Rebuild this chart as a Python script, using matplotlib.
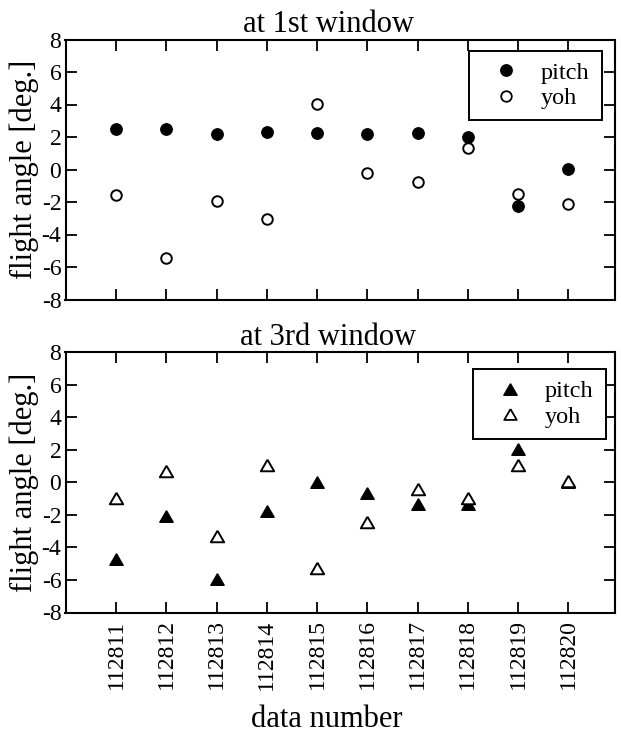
import matplotlib
matplotlib.use("Agg")
import matplotlib.pyplot as plt
from matplotlib.lines import Line2D

plt.rcParams['font.family'] = ['Liberation Serif', 'DejaVu Serif']
plt.rcParams['axes.unicode_minus'] = False

data_numbers = [112811, 112812, 112813, 112814, 112815, 112816, 112817, 112818, 112819, 112820]
w1_pitch = [2.52, 2.52, 2.21, 2.31, 2.25, 2.21, 2.27, 1.98, -2.27, 0.04]
w1_yoh = [-1.57, -5.44, -1.92, -3.05, 4.06, -0.21, -0.78, 1.34, -1.50, -2.14]
w3_pitch = [-4.72, -2.08, -5.96, -1.77, 0.04, -0.68, -1.34, -1.34, 2.04, 0.0]
w3_yoh = [-0.95, 0.72, -3.32, 1.07, -5.26, -2.47, -0.43, -0.95, 1.07, 0.08]
yticks = [-8, -6, -4, -2, 0, 2, 4, 6, 8]

W, H = 621, 736
fig = plt.figure(figsize=(W / 100, H / 100), dpi=100)

def pos(l, t, r, b):
    return [l / W, 1 - b / H, (r - l) / W, (b - t) / H]

ax1 = fig.add_axes(pos(65.5, 39.5, 615, 299.5))
ax2 = fig.add_axes(pos(65.5, 352, 615, 612.5))

# equilateral triangle centred on its bounding box
TRI = [(0, 0.866), (-1, -0.866), (1, -0.866), (0, 0.866)]

def style(ax, title, show_x):
    ax.set_xlim(112809.99, 112820.93)
    ax.set_ylim(-8, 8)
    ax.set_yticks(yticks)
    ax.set_yticklabels([str(v) for v in yticks], fontsize=17)
    ax.set_xticks(data_numbers)
    if show_x:
        ax.set_xticklabels([str(v) for v in data_numbers], rotation=90, fontsize=17)
        ax.tick_params(axis='x', pad=5)
    else:
        ax.set_xticklabels([])
    ax.tick_params(direction='in', length=8, width=1.3, top=True, right=True)
    ax.tick_params(axis='y', pad=3)
    for s in ax.spines.values():
        s.set_linewidth(1.5)
    ax.set_title(title, fontsize=22, pad=5, x=0.478)
    ax.set_ylabel('flight angle [deg.]', fontsize=22)
    ax.yaxis.set_label_coords(-0.048, 0.5)

ax1.plot(data_numbers, w1_yoh, linestyle='none', marker='o', markersize=7.6,
         markerfacecolor='white', markeredgecolor='black', markeredgewidth=1.4, label='yoh')
ax1.plot(data_numbers, w1_pitch, linestyle='none', marker='o', markersize=8.2,
         markerfacecolor='black', markeredgecolor='black', label='pitch')
style(ax1, 'at 1st window', False)

ax2.plot(data_numbers, w3_pitch, linestyle='none', marker=TRI, markersize=9.6,
         markerfacecolor='black', markeredgecolor='black', markeredgewidth=1.0, label='pitch')
ax2.plot(data_numbers, w3_yoh, linestyle='none', marker=TRI, markersize=9.6,
         markerfacecolor='white', markeredgecolor='black', markeredgewidth=1.4, label='yoh')
style(ax2, 'at 3rd window', True)
ax2.set_xlabel('data number', fontsize=22)
ax2.xaxis.set_label_coords(0.476, -0.355)

def legend(ax, marker, ms, left, top, right, bottom):
    handles = [
        Line2D([], [], linestyle='none', marker=marker, markersize=ms,
               markerfacecolor='black', markeredgecolor='black'),
        Line2D([], [], linestyle='none', marker=marker, markersize=ms - 0.6,
               markerfacecolor='white', markeredgecolor='black', markeredgewidth=1.3),
    ]
    bbox = (left / W, 1 - bottom / H, (right - left) / W, (bottom - top) / H)
    leg = ax.legend(handles, ['pitch', 'yoh'], loc='upper left', bbox_to_anchor=bbox,
                    bbox_transform=fig.transFigure, mode='expand', fontsize=17.5,
                    frameon=True, fancybox=False, edgecolor='black', framealpha=1,
                    borderpad=0.45, handlelength=2.15, handletextpad=0.36,
                    labelspacing=0.15, borderaxespad=0)
    leg.get_frame().set_linewidth(1.4)

legend(ax1, 'o', 8.2, 469, 50.7, 602, 117.7)
legend(ax2, TRI, 9.6, 473, 369.3, 606, 436.7)

fig.savefig('out.png', dpi=100)
